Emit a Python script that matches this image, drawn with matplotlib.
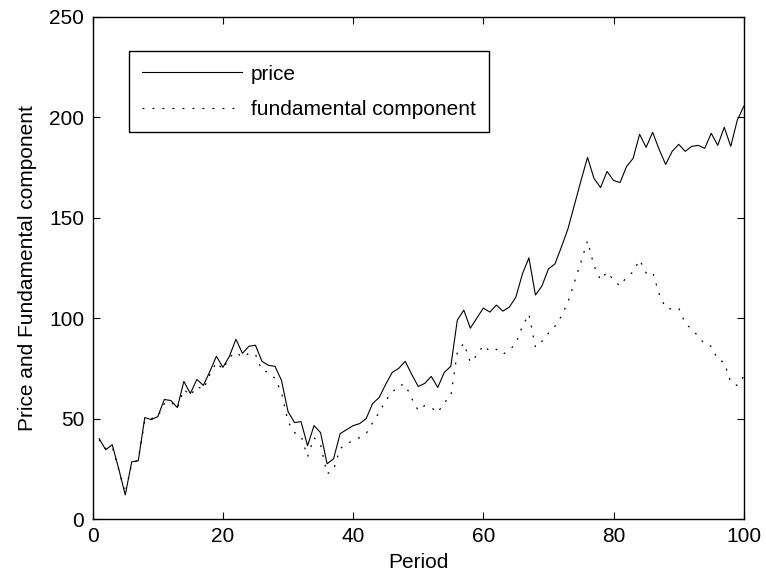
import numpy as np
import matplotlib
matplotlib.use("Agg")
import matplotlib.pyplot as plt

# ---------------- data ----------------
period = list(range(1, 101))

price = [40, 34.5, 37, 25, 12, 28.5, 29, 50.5, 49.5, 51,
         59.5, 59, 55.5, 68.5, 62.5, 69.5, 66.5, 73.5, 81, 75.5,
         81, 89.5, 82.5, 86, 86.5, 78.5, 76.5, 76, 69, 53.5,
         48, 48.5, 36.5, 46.5, 43, 27.5, 30, 42.5, 44.5, 46.5,
         47.5, 50, 57.5, 60.5, 67, 73, 75, 78.5, 72, 66,
         67.5, 71, 65.5, 73, 76, 99, 104, 95, 100, 105,
         103, 106.5, 103.5, 105.5, 110.5, 122, 130, 111.5, 116, 124.5,
         127, 135.5, 144.5, 156.5, 168.5, 180, 169.5, 165, 173, 168.5,
         167.5, 175.5, 179.5, 191.5, 185, 192.5, 184, 176.5, 183, 186.5,
         183, 185.5, 186, 184.5, 192, 186, 195, 185.5, 198.5, 205.5]

fundamental = [39.5, 35, 36, 24.5, 13, 27.5, 29.5, 49, 50, 51,
               57.5, 58.5, 55, 64.5, 61.5, 66, 64.5, 72, 78, 74.5,
               80.5, 83, 80.5, 82.5, 82, 74, 73, 70, 63, 48.5,
               43, 41.5, 31, 40.5, 37, 22.5, 24.5, 35, 37.5, 39,
               40.5, 42.5, 48, 53, 59, 63, 66.5, 67, 60, 54,
               56.5, 55.5, 53, 58, 61, 83, 87.5, 78, 81.5, 86.5,
               83.5, 84.5, 82, 84, 87.5, 96, 102, 85.5, 88.5, 92.5,
               96, 101, 108, 118, 128, 138.5, 126, 119, 123, 119,
               116, 120.5, 123, 129, 122.5, 123, 112, 105, 104.5, 105,
               97.5, 94.5, 91, 87, 86, 79.5, 78, 68, 66.5, 71]

# ---------------- plot ----------------
plt.rcParams['font.family'] = ['Liberation Sans', 'DejaVu Sans']
fs = 15

fig = plt.figure(figsize=(7.66, 5.78), dpi=100)
ax = fig.add_axes([0.121, 0.102, 0.850, 0.869])

ax.plot(period, price, color='black', linewidth=0.8, label='price')
ax.plot(period, fundamental, color='black', linewidth=0.9,
        linestyle=(0, (1.5, 6.5)), label='fundamental component')

ax.set_xlim(0, 100)
ax.set_ylim(0, 250)
ax.set_xticks(np.arange(0, 101, 20))
ax.set_yticks(np.arange(0, 251, 50))
ax.tick_params(direction='in', length=5, width=0.8, top=True, right=True,
               labelsize=fs, pad=6)
for s in ax.spines.values():
    s.set_linewidth(1.0)

ax.set_xlabel('Period', fontsize=fs, labelpad=5)
ax.set_ylabel('Price and Fundamental component', fontsize=fs, labelpad=9)

leg = ax.legend(loc='upper left', bbox_to_anchor=(0.0557, 0.9317),
                fontsize=fs, handlelength=4.8, handletextpad=0.4,
                borderpad=0.65, labelspacing=0.78, borderaxespad=0,
                fancybox=False, framealpha=1, edgecolor='black')
leg.get_frame().set_linewidth(1.0)

fig.savefig('out.png', dpi=100)
